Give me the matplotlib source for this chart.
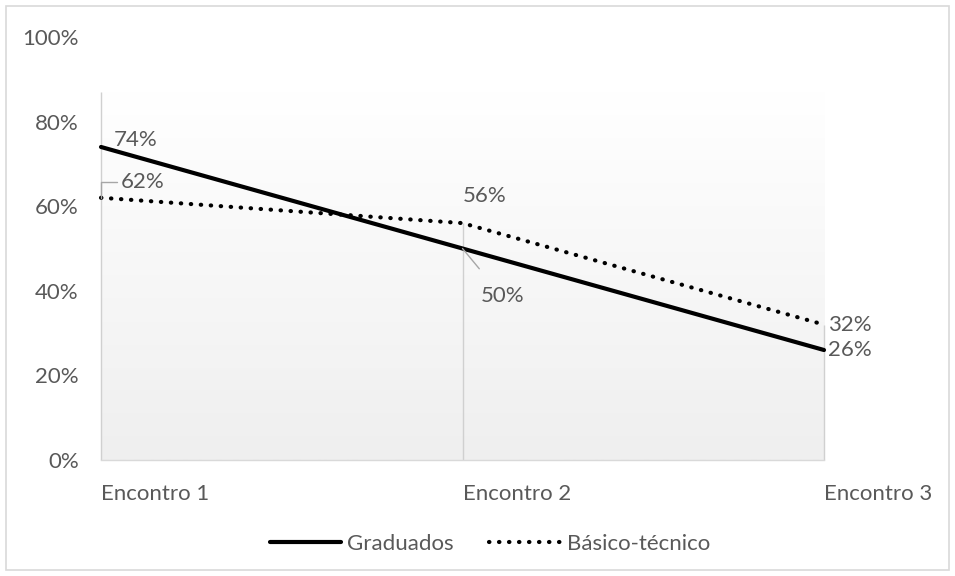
import numpy as np
import matplotlib.pyplot as plt
from matplotlib.colors import LinearSegmentedColormap

plt.rcParams['font.family'] = ['Lato', 'DejaVu Sans']

categories = ['Encontro 1', 'Encontro 2', 'Encontro 3']
graduados = [0.74, 0.50, 0.26]
basico = [0.62, 0.56, 0.32]
y_ticks = [0, 0.2, 0.4, 0.6, 0.8, 1.0]

# label offsets in pixels (dx, dy) relative to each point
grad_offsets = [(13, 7), (18, -48), (4, 0)]
bas_offsets = [(20, 16), (0, 27), (4, 0)]

txt = '#595959'
fs = 16
px = 0.72  # points per pixel at dpi 100

fig = plt.figure(figsize=(9.55, 5.76), dpi=100)
ax = fig.add_axes([101/955, 1-460/576, 723/955, 423/576])
x = np.arange(len(categories))

# plot area gradient fill
cmap = LinearSegmentedColormap.from_list('g', ['#ffffff', '#efefef'])
grad = np.linspace(0, 1, 256).reshape(-1, 1)
ax.imshow(grad, cmap=cmap, aspect='auto', extent=(0, 2, 0, 0.87),
          origin='upper', zorder=0, vmin=0, vmax=1)

# drop lines
tops = [0.87, max(graduados[1], basico[1]), max(graduados[2], basico[2])]
ax.vlines(x, 0, tops, color='#d0d0d0', lw=1, zorder=1, clip_on=False)

ax.plot(x, graduados, color='black', lw=3, solid_capstyle='round', zorder=3,
        label='Graduados', clip_on=False)
ax.plot(x, basico, color='black', lw=3, linestyle=(0, (0.1, 2.3)),
        dash_capstyle='round', zorder=3, label='Básico-técnico', clip_on=False)

for i in range(3):
    for vals, offs in ((graduados, grad_offsets), (basico, bas_offsets)):
        dx, dy = offs[i]
        kw = {}
        if (vals is basico and i == 0):
            kw = dict(arrowprops=dict(arrowstyle='-', color='#a6a6a6', lw=1,
                                      shrinkA=1, shrinkB=0,
                                      connectionstyle='angle,angleA=0,angleB=90'))
        elif (vals is graduados and i == 1):
            kw = dict(arrowprops=dict(arrowstyle='-', color='#a6a6a6', lw=1,
                                      shrinkA=14, shrinkB=0))
        ax.annotate(f'{int(round(vals[i]*100))}%', (x[i], vals[i]),
                    xytext=(dx*px, dy*px), textcoords='offset points',
                    ha='left', va='center', fontsize=fs, color=txt, zorder=4, **kw)

ax.set_xlim(0, 2)
ax.set_ylim(0, 1)
ax.set_yticks(y_ticks)
ax.set_yticklabels([f'{int(v*100)}%' for v in y_ticks], fontsize=fs, color=txt)
ax.set_xticks(x)
ax.set_xticklabels(categories, fontsize=fs, color=txt, ha='left')
ax.tick_params(length=0)
ax.tick_params(axis='y', pad=16)
ax.tick_params(axis='x', pad=17)
for s in ['top', 'right', 'left']:
    ax.spines[s].set_visible(False)
ax.spines['bottom'].set_color('#d9d9d9')
ax.spines['bottom'].set_linewidth(1)

fig.legend(loc='center', bbox_to_anchor=(490/955, 1-544/576), ncol=2,
           frameon=False, fontsize=fs, labelcolor=txt, handlelength=3.2,
           handletextpad=0.3, columnspacing=1.6)

fig.patches.append(plt.Rectangle((6/955, 6/576), 943/955, 564/576, fill=False,
                                 edgecolor='#d9d9d9', lw=1.2,
                                 transform=fig.transFigure, figure=fig))

fig.savefig('out.png', dpi=100)
